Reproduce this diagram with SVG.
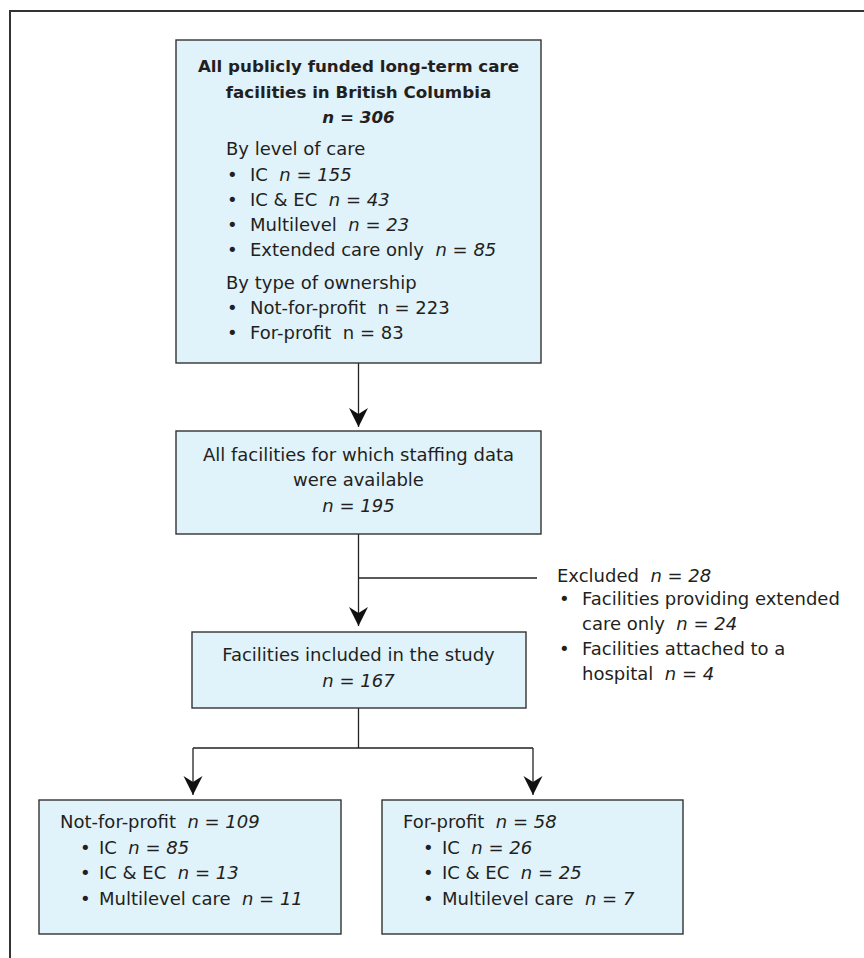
<svg xmlns="http://www.w3.org/2000/svg" width="864" height="958" viewBox="0 0 864 958">
<defs>
<style>
.box{fill:#e0f2fa;stroke:#333;stroke-width:1.4}
.frame{fill:none;stroke:#333;stroke-width:2}
.con{fill:none;stroke:#222;stroke-width:1.3}
text{font-family:"DejaVu Sans","Liberation Sans",sans-serif;font-size:18px;fill:#231f20;white-space:pre}
.c{text-anchor:middle}
.b{font-weight:bold;font-size:16.7px}
.i{font-style:italic}
</style>
<marker id="ah" viewBox="0 0 20 20" markerWidth="20" markerHeight="20" refX="19" refY="10" orient="auto" markerUnits="userSpaceOnUse">
<path d="M19,10 L0,0.5 L6,10 L0,19.5 Z" fill="#111"/>
</marker>
</defs>
<rect width="864" height="958" fill="#fff"/>
<path class="frame" d="M10,958 V11 H864"/>

<g id="connectors">
<path class="con" d="M358.5,363 V427" marker-end="url(#ah)"/>
<path class="con" d="M358.5,534 V626" marker-end="url(#ah)"/>
<path class="con" d="M358.5,578 H537"/>
<path class="con" d="M358.5,708 V748 M193,748 H533"/>
<path class="con" d="M193,748 V795" marker-end="url(#ah)"/>
<path class="con" d="M533,748 V795" marker-end="url(#ah)"/>
</g>

<g id="node-all">
<rect class="box" x="176" y="40" width="365" height="323"/>
<text class="c b" x="358.5" y="72">All publicly funded long-term care</text>
<text class="c b" x="358.5" y="97.5">facilities in British Columbia</text>
<text class="c b i" x="358.5" y="123">n = 306</text>
<text x="226" y="155">By level of care</text>
<text x="227" y="180.5">•</text><text x="250" y="180.5">IC  <tspan class="i">n = 155</tspan></text>
<text x="227" y="206">•</text><text x="250" y="206">IC &amp; EC  <tspan class="i">n = 43</tspan></text>
<text x="227" y="231">•</text><text x="250" y="231">Multilevel  <tspan class="i">n = 23</tspan></text>
<text x="227" y="256">•</text><text x="250" y="256">Extended care only  <tspan class="i">n = 85</tspan></text>
<text x="226" y="289">By type of ownership</text>
<text x="227" y="314">•</text><text x="250" y="314">Not-for-profit  n = 223</text>
<text x="227" y="339">•</text><text x="250" y="339">For-profit  n = 83</text>
</g>

<g id="node-staffing">
<rect class="box" x="176" y="431" width="365" height="103"/>
<text class="c" x="358.5" y="461">All facilities for which staffing data</text>
<text class="c" x="358.5" y="486">were available</text>
<text class="c i" x="358.5" y="512">n = 195</text>
</g>

<g id="node-excluded">
<text x="557" y="582">Excluded  <tspan class="i">n = 28</tspan></text>
<text x="559" y="605">•</text><text x="582" y="605">Facilities providing extended</text>
<text x="582" y="630">care only  <tspan class="i">n = 24</tspan></text>
<text x="559" y="655">•</text><text x="582" y="655">Facilities attached to a</text>
<text x="582" y="680">hospital  <tspan class="i">n = 4</tspan></text>
</g>

<g id="node-included">
<rect class="box" x="192" y="632" width="334" height="76"/>
<text class="c" x="358.5" y="661">Facilities included in the study</text>
<text class="c i" x="358.5" y="687">n = 167</text>
</g>

<g id="node-nfp">
<rect class="box" x="39" y="800" width="302" height="134"/>
<text x="60" y="828">Not-for-profit  <tspan class="i">n = 109</tspan></text>
<text x="80" y="854">•</text><text x="99" y="854">IC  <tspan class="i">n = 85</tspan></text>
<text x="80" y="879">•</text><text x="99" y="879">IC &amp; EC  <tspan class="i">n = 13</tspan></text>
<text x="80" y="905">•</text><text x="99" y="905">Multilevel care  <tspan class="i">n = 11</tspan></text>
</g>

<g id="node-fp">
<rect class="box" x="382" y="800" width="301" height="134"/>
<text x="403" y="828">For-profit  <tspan class="i">n = 58</tspan></text>
<text x="423" y="854">•</text><text x="442" y="854">IC  <tspan class="i">n = 26</tspan></text>
<text x="423" y="879">•</text><text x="442" y="879">IC &amp; EC  <tspan class="i">n = 25</tspan></text>
<text x="423" y="905">•</text><text x="442" y="905">Multilevel care  <tspan class="i">n = 7</tspan></text>
</g>
</svg>
